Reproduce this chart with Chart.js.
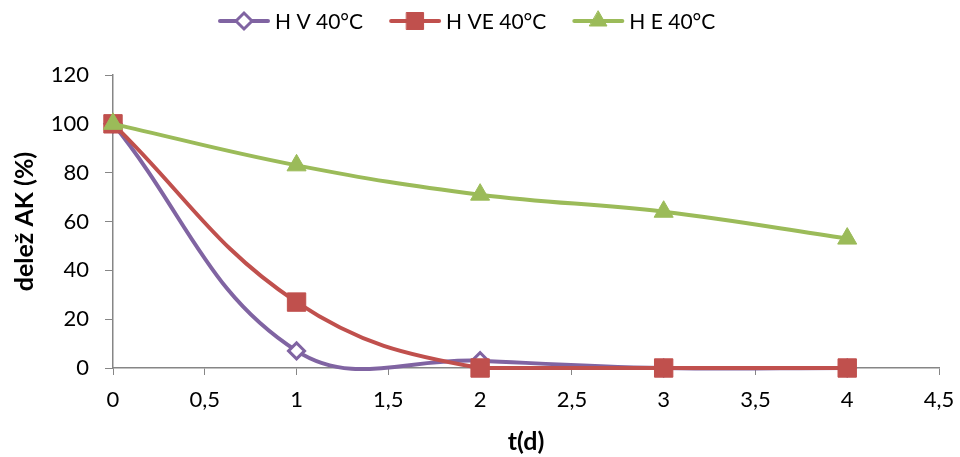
<!DOCTYPE html>
<html>
<head>
<meta charset="utf-8">
<script src="https://cdn.jsdelivr.net/npm/chart.js@4/dist/chart.umd.min.js"></script>
<style>
  html, body { margin: 0; padding: 0; background: #fff; }
  #wrap { width: 960px; height: 457px; }
</style>
</head>
<body>
<div id="wrap"><canvas id="chart" width="960" height="457"></canvas></div>
<script>
// Days of measurement and share of AK (%) per sample
const days = [0, 1, 2, 3, 4];
const hV = [100, 7, 3, 0, 0];
const hVE = [100, 27, 0, 0, 0];
const hE = [100, 83, 71, 64, 53];
const seriesNames = ["H V 40°C", "H VE 40°C", "H E 40°C"];

const PURPLE = "#8064A2";
const RED = "#C0504D";
const GREEN = "#9BBB59";
const AXIS = "#868686";
const FONT = "Lato, 'Open Sans', sans-serif";

function toPoints(values) {
    return days.map((d, i) => ({ x: d, y: values[i] }));
}

// Legend drawn as line + marker + label, like the series themselves
const lineLegend = {
    id: "lineLegend",
    afterDraw(chart) {
        const ctx = chart.ctx;
        const y = 21;
        let x = 220;
        ctx.save();
        ctx.font = "21px " + FONT;
        ctx.textBaseline = "middle";
        chart.data.datasets.forEach(ds => {
            ctx.strokeStyle = ds.borderColor;
            ctx.lineWidth = 4;
            ctx.lineCap = "round";
            ctx.beginPath();
            ctx.moveTo(x, y);
            ctx.lineTo(x + 48, y);
            ctx.stroke();
            ctx.fillStyle = ds.pointBackgroundColor;
            ctx.strokeStyle = ds.pointBorderColor;
            ctx.lineWidth = ds.pointBorderWidth;
            Chart.helpers.drawPoint(ctx, {
                pointStyle: ds.pointStyle,
                radius: ds.legendRadius,
                borderWidth: ds.pointBorderWidth,
                rotation: 0
            }, x + 24, y);
            ctx.fillStyle = "#000";
            ctx.fillText(ds.label, x + 55, y + 1);
            x += 55 + ctx.measureText(ds.label).width + 28;
        });
        ctx.restore();
    }
};

new Chart(document.getElementById("chart"), {
    type: "line",
    data: {
        datasets: [
            {
                label: seriesNames[0],
                data: toPoints(hV),
                borderColor: PURPLE,
                borderWidth: 4,
                pointStyle: "rectRot",
                pointRadius: 8,
                legendRadius: 8,
                pointBackgroundColor: "#fff",
                pointBorderColor: PURPLE,
                pointBorderWidth: 3,
                tension: 0.4,
                capBezierPoints: false,
                clip: false,
                order: 3
            },
            {
                label: seriesNames[1],
                data: toPoints(hVE),
                borderColor: RED,
                borderWidth: 4,
                pointStyle: "rect",
                pointRadius: 13,
                legendRadius: 12,
                pointBackgroundColor: RED,
                pointBorderColor: RED,
                pointBorderWidth: 1,
                tension: 0.4,
                clip: false,
                order: 2
            },
            {
                label: seriesNames[2],
                data: toPoints(hE),
                borderColor: GREEN,
                borderWidth: 4,
                pointStyle: "triangle",
                pointRadius: 11,
                legendRadius: 10,
                pointBackgroundColor: GREEN,
                pointBorderColor: GREEN,
                pointBorderWidth: 1,
                tension: 0.4,
                clip: false,
                order: 1
            }
        ]
    },
    options: {
        responsive: false,
        animation: false,
        layout: { padding: { top: 75, right: 21, left: 0, bottom: 0 } },
        plugins: {
            legend: { display: false },
            tooltip: { enabled: false }
        },
        scales: {
            x: {
                type: "linear",
                min: 0,
                max: 4.5,
                afterFit(scale) {
                    scale.height = 89;
                    scale.paddingRight = 0;
                    scale.paddingLeft = 0;
                },
                ticks: {
                    stepSize: 0.5,
                    color: "#000",
                    font: { family: FONT, size: 22 },
                    padding: 12,
                    maxRotation: 0,
                    callback: v => String(v).replace(".", ",")
                },
                grid: { drawOnChartArea: false, drawTicks: true, tickLength: 7, color: AXIS },
                border: { color: AXIS, width: 1.5 },
                title: {
                    display: true,
                    text: "t(d)",
                    color: "#000",
                    font: { family: FONT, size: 25, weight: "bold" },
                    padding: { top: 0, bottom: 0 }
                }
            },
            y: {
                min: 0,
                max: 120,
                afterFit(scale) { scale.width = 113; },
                ticks: {
                    stepSize: 20,
                    color: "#000",
                    font: { family: FONT, size: 22 },
                    padding: 16
                },
                grid: { drawOnChartArea: false, drawTicks: true, tickLength: 8, color: AXIS },
                border: { color: AXIS, width: 1.5 },
                title: {
                    display: true,
                    text: "delež AK (%)",
                    color: "#000",
                    font: { family: FONT, size: 25, weight: "bold" },
                    padding: { top: 10, bottom: 0 }
                }
            }
        }
    },
    plugins: [lineLegend]
});
</script>
</body>
</html>
